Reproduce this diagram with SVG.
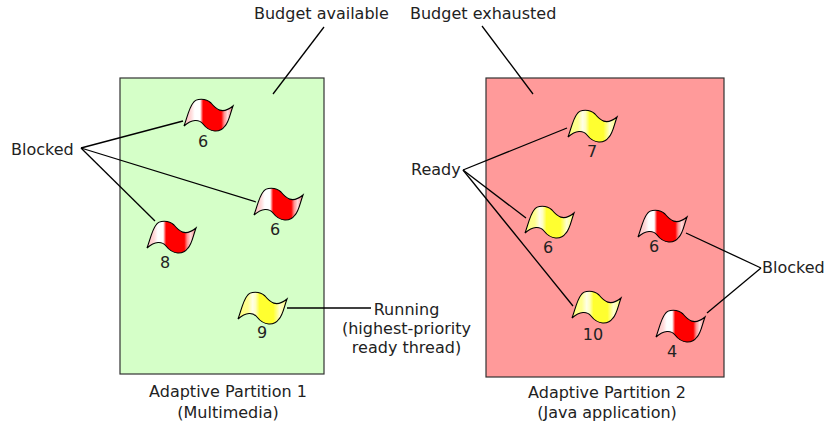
<svg xmlns="http://www.w3.org/2000/svg" width="832" height="425" viewBox="0 0 832 425">
<style>
text{font-family:"DejaVu Sans",Verdana,sans-serif;font-size:16px;fill:#222}
.m{text-anchor:middle}
.c line{stroke:#000;stroke-width:1.3}
.p{stroke:#333;stroke-width:1.2}
.f{stroke:#000;stroke-width:1.1}
</style>
<defs>
<linearGradient id="r" x1="0" x2="1" y1="0" y2="0">
<stop offset="0" stop-color="#ffc0c0"/><stop offset=".14" stop-color="#ffd8d8"/><stop offset=".22" stop-color="#fff"/><stop offset=".33" stop-color="#fff"/><stop offset=".39" stop-color="#f00"/><stop offset=".76" stop-color="#f00"/><stop offset=".82" stop-color="#ff9090"/><stop offset=".89" stop-color="#ffdcdc"/><stop offset="1" stop-color="#ff8080"/>
</linearGradient>
<linearGradient id="y" x1="0" x2="1" y1="0" y2="0">
<stop offset="0" stop-color="#ffff80"/><stop offset=".2" stop-color="#ffff90"/><stop offset=".3" stop-color="#ffffe8"/><stop offset=".36" stop-color="#ffffc0"/><stop offset=".44" stop-color="#ffff30"/><stop offset=".72" stop-color="#ffff30"/><stop offset=".85" stop-color="#ffffd0"/><stop offset="1" stop-color="#ffff70"/>
</linearGradient>
<path id="flag" d="M0,0C3,-8 5,-18 9,-23C12,-28 22,-28 27,-23C32,-17 38,-11 49,-20C46,-12 45,-4 41,0C36,7 26,7 19,-2C15,-7 8,-7 0,0Z"/>
</defs>
<rect width="832" height="425" fill="#fff"/>
<g id="partition1"><rect class="p" x="120" y="78" width="204" height="296" fill="#d5ffc8"/><text class="m" x="228" y="397">Adaptive Partition 1</text><text class="m" x="228" y="418">(Multimedia)</text></g>
<g id="partition2"><rect class="p" x="486" y="78" width="238" height="299" fill="#ff9a9a"/><text class="m" x="607" y="398">Adaptive Partition 2</text><text class="m" x="607" y="418">(Java application)</text></g>
<g class="c" id="connectors">
<line x1="273" y1="94" x2="324" y2="27"/>
<line x1="533" y1="94" x2="482" y2="26"/>
<line x1="81" y1="148" x2="183" y2="121"/>
<line x1="81" y1="148" x2="256" y2="202"/>
<line x1="81" y1="148" x2="155" y2="221"/>
<line x1="287" y1="308" x2="371" y2="308"/>
<line x1="463" y1="170" x2="567" y2="128"/>
<line x1="463" y1="170" x2="526" y2="218"/>
<line x1="463" y1="170" x2="573" y2="306"/>
<line x1="686" y1="233" x2="761" y2="268"/>
<line x1="707" y1="313" x2="761" y2="268"/>
</g>
<g id="flag1"><use href="#flag" x="184" y="126" fill="url(#r)" class="f"/><text class="m" x="203" y="147">6</text></g>
<g id="flag2"><use href="#flag" x="254" y="215" fill="url(#r)" class="f"/><text class="m" x="275" y="235">6</text></g>
<g id="flag3"><use href="#flag" x="147" y="248" fill="url(#r)" class="f"/><text class="m" x="165" y="268">8</text></g>
<g id="flag4"><use href="#flag" x="238" y="319" fill="url(#y)" class="f"/><text class="m" x="262" y="338">9</text></g>
<g id="flag5"><use href="#flag" x="568" y="137" fill="url(#y)" class="f"/><text class="m" x="592" y="157">7</text></g>
<g id="flag6"><use href="#flag" x="525" y="233" fill="url(#y)" class="f"/><text class="m" x="548" y="253">6</text></g>
<g id="flag7"><use href="#flag" x="572" y="318" fill="url(#y)" class="f"/><text class="m" x="593" y="340">10</text></g>
<g id="flag8"><use href="#flag" x="638" y="237" fill="url(#r)" class="f"/><text class="m" x="654" y="252">6</text></g>
<g id="flag9"><use href="#flag" x="656" y="337" fill="url(#r)" class="f"/><text class="m" x="672" y="357">4</text></g>
<g id="labels">
<text x="254" y="19">Budget available</text>
<text x="410" y="19">Budget exhausted</text>
<text x="11" y="155">Blocked</text>
<text x="411" y="175">Ready</text>
<text x="762" y="273">Blocked</text>
<text class="m" x="406.500" y="315">Running</text>
<text class="m" x="406.500" y="334">(highest-priority</text>
<text class="m" x="406.500" y="353">ready thread)</text>
</g>
</svg>
